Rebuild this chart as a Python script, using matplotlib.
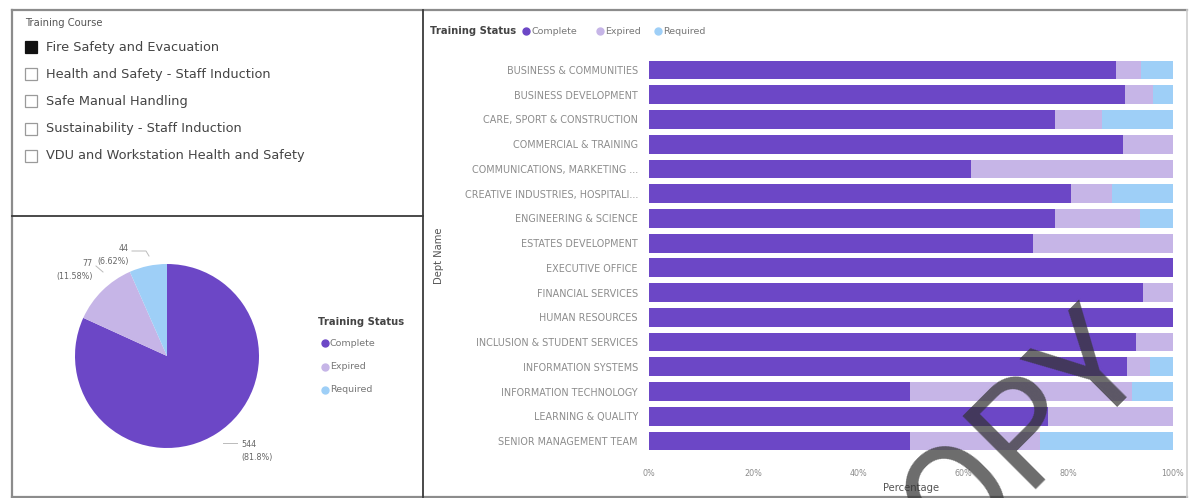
import numpy as np
import matplotlib
matplotlib.use("Agg")
import matplotlib.pyplot as plt
from matplotlib.patches import Rectangle
from matplotlib.lines import Line2D

W, H = 1190, 498

# slicer
courses = ["Fire Safety and Evacuation",
           "Health and Safety - Staff Induction",
           "Safe Manual Handling",
           "Sustainability - Staff Induction",
           "VDU and Workstation Health and Safety"]
selected = [True, False, False, False, False]

# overall status counts (pie)
statuses = ["Complete", "Expired", "Required"]
status_counts = [544, 77, 44]
status_colors = ["#6c47c6", "#c6b5e7", "#9ecff7"]

# per department split, percent
depts = ["BUSINESS & COMMUNITIES", "BUSINESS DEVELOPMENT", "CARE, SPORT & CONSTRUCTION",
         "COMMERCIAL & TRAINING", "COMMUNICATIONS, MARKETING ...",
         "CREATIVE INDUSTRIES, HOSPITALI...", "ENGINEERING & SCIENCE",
         "ESTATES DEVELOPMENT", "EXECUTIVE OFFICE", "FINANCIAL SERVICES",
         "HUMAN RESOURCES", "INCLUSION & STUDENT SERVICES", "INFORMATION SYSTEMS",
         "INFORMATION TECHNOLOGY", "LEARNING & QUALITY", "SENIOR MANAGEMENT TEAM"]
pct_complete = [89.1, 90.8, 77.5, 90.5, 61.4, 80.5, 77.5, 73.3, 100, 94.3, 100, 92.9, 91.3, 49.8, 76.2, 49.8]
pct_expired = [4.8, 5.4, 8.9, 9.5, 38.6, 7.8, 16.2, 26.7, 0, 5.7, 0, 7.1, 4.3, 42.3, 23.8, 24.9]
pct_required = [6.1, 3.8, 13.6, 0, 0, 11.7, 6.3, 0, 0, 0, 0, 0, 4.4, 7.9, 0, 25.3]
xticks = [0, 20, 40, 60, 80, 100]

plt.rcParams['font.family'] = ['DejaVu Sans']


def fx(x):
    return x / W


def fy(y):
    return 1 - y / H


def box(x0, y0, x1, y1):
    # pixel box -> [left, bottom, width, height]
    return [fx(x0), fy(y1), (x1 - x0) / W, (y1 - y0) / H]


fig = plt.figure(figsize=(W / 100, H / 100), dpi=100)
fig.patch.set_facecolor("white")

# panel frames
frame = dict(color="#8c8c8c", lw=1.6, transform=fig.transFigure)
fig.add_artist(Line2D([fx(12), fx(1187)], [fy(10), fy(10)], **frame))
fig.add_artist(Line2D([fx(12), fx(1187)], [fy(497), fy(497)], **frame))
fig.add_artist(Line2D([fx(12), fx(12)], [fy(10), fy(497)], **frame))
fig.add_artist(Line2D([fx(1187), fx(1187)], [fy(10), fy(497)], color="#cfcfcf", lw=1.2, transform=fig.transFigure))
fig.add_artist(Line2D([fx(423), fx(423)], [fy(10), fy(497)], color="#3a3a3a", lw=1.3, transform=fig.transFigure))
fig.add_artist(Line2D([fx(12), fx(423)], [fy(216), fy(216)], color="#3a3a3a", lw=1.3, transform=fig.transFigure))

# ---- slicer ----
fig.text(fx(25), fy(23), "Training Course", fontsize=7.2, color="#555555", va="center")
for i, (name, sel) in enumerate(zip(courses, selected)):
    yc = 47 + i * 27.2
    fig.add_artist(Rectangle((fx(25), fy(yc + 6)), 12 / W, 12 / H, transform=fig.transFigure,
                             facecolor="#111111" if sel else "white",
                             edgecolor="#111111" if sel else "#9a9a9a", lw=0.9))
    fig.text(fx(46), fy(yc), name, fontsize=9.3, color="#444444", va="center")

# ---- pie ----
r_px = 92
pie_ax = fig.add_axes(box(167 - 110, 356 - 110, 167 + 110, 356 + 110))
lim = 110 / r_px
pie_ax.pie(status_counts, colors=status_colors, startangle=90, counterclock=False,
           radius=1, wedgeprops=dict(linewidth=0))
pie_ax.set_xlim(-lim, lim)
pie_ax.set_ylim(-lim, lim)
pie_ax.set_aspect("equal")
pie_ax.axis("off")

total = sum(status_counts)
shares = [c / total * 100 for c in status_counts]
lab = dict(fontsize=5.8, color="#666666", linespacing=1.6)
fig.text(fx(241), fy(451), f"{status_counts[0]}\n({shares[0]:.1f}%)", ha="left", va="center", **lab)
fig.text(fx(129), fy(255), f"{status_counts[2]}\n({shares[2]:.2f}%)", ha="right", va="center", **lab)
fig.text(fx(93), fy(270), f"{status_counts[1]}\n({shares[1]:.2f}%)", ha="right", va="center", **lab)
lead = dict(color="#bbbbbb", lw=0.7, transform=fig.transFigure)
fig.add_artist(Line2D([fx(223), fx(237)], [fy(443), fy(443)], **lead))
fig.add_artist(Line2D([fx(132), fx(146), fx(149)], [fy(251), fy(251), fy(256)], **lead))
fig.add_artist(Line2D([fx(96), fx(103)], [fy(266), fy(272)], **lead))

fig.text(fx(318), fy(322), "Training Status", fontsize=7.2, fontweight="bold", color="#444444", va="center")
for i, (s, c) in enumerate(zip(statuses, status_colors)):
    yc = 343 + i * 23.5
    fig.add_artist(Line2D([fx(325)], [fy(yc)], marker="o", ms=5, color=c, mec=c, transform=fig.transFigure))
    fig.text(fx(330), fy(yc), s, fontsize=6.8, color="#777777", va="center")

# ---- stacked bars ----
ax = fig.add_axes(box(649, 57.6, 1173, 453.4))
y = np.arange(len(depts))
comp = np.array(pct_complete)
exp_ = np.array(pct_expired)
req = np.array(pct_required)
ax.barh(y, comp, height=0.76, color=status_colors[0], label=statuses[0])
ax.barh(y, exp_, left=comp, height=0.76, color=status_colors[1], label=statuses[1])
ax.barh(y, req, left=comp + exp_, height=0.76, color=status_colors[2], label=statuses[2])
ax.set_xlim(0, 100)
ax.set_ylim(len(depts) - 0.5, -0.5)
ax.set_yticks(y)
ax.set_yticklabels(depts, fontsize=6.9, color="#8c8c8c")
ax.set_xticks(xticks)
ax.set_xticklabels([f"{t}%" for t in xticks], fontsize=5.8, color="#8c8c8c")
ax.tick_params(length=0, pad=8)
ax.tick_params(axis="x", pad=11)
for sp in ax.spines.values():
    sp.set_visible(False)
ax.set_xlabel("Percentage", fontsize=7.2, color="#555555", labelpad=4)
fig.text(fx(439), fy(256), "Dept Name", fontsize=7.2, color="#555555", rotation=90, ha="center", va="center")

fig.text(fx(430), fy(31), "Training Status", fontsize=7.2, fontweight="bold", color="#444444", va="center")
lx = [526, 600, 658]
for x0, s, c in zip(lx, statuses, status_colors):
    fig.add_artist(Line2D([fx(x0)], [fy(31)], marker="o", ms=5, color=c, mec=c, transform=fig.transFigure))
    fig.text(fx(x0 + 5), fy(31), s, fontsize=6.8, color="#777777", va="center")

# watermark
fig.text(fx(992), fy(468), "COPY", fontsize=104, color="#333333", alpha=0.72, rotation=45,
         ha="center", va="center", fontweight="normal", family=["Roboto", "DejaVu Sans"])

fig.savefig("out.png", dpi=100, facecolor="white")
